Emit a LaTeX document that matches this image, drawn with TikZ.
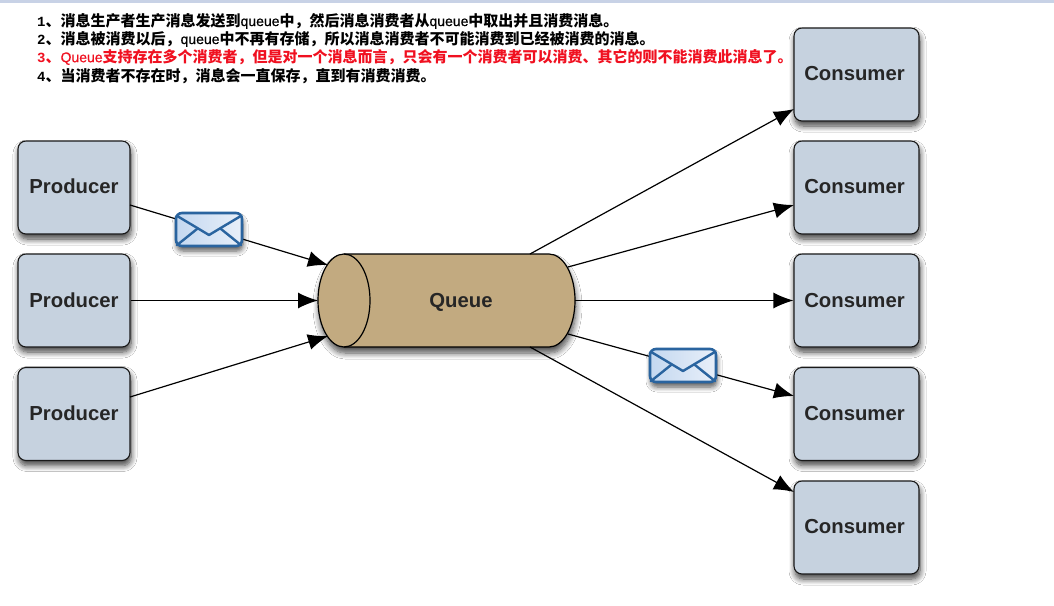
\documentclass[tikz,border=0pt]{standalone}
\usepackage{fontspec}
\setmainfont{Liberation Sans}
\newfontfamily\cjk{Noto Sans CJK SC}
\newfontfamily\monob{Liberation Mono}
\usetikzlibrary{arrows.meta,shadows.blur}
\definecolor{boxfill}{HTML}{C6D2DF}
\definecolor{qfill}{HTML}{C2AA80}
\definecolor{envline}{HTML}{2A649F}
\definecolor{envlight}{HTML}{E8EFF9}
\definecolor{envdark}{HTML}{C4D8F0}
\definecolor{barcol}{HTML}{C8D2E6}
\definecolor{redtxt}{HTML}{F01020}
\newcommand{\Dg}[1]{{\monob\bfseries\fontsize{14}{16}\selectfont #1}}
\newcommand{\Qu}[1]{{\normalfont\fontsize{14}{15}\selectfont\addfontfeatures{FakeBold=0.6}#1}}
\newcommand{\Lb}[1]{\raisebox{2pt}{#1}}
\tikzset{
  x=1pt,y=-1pt,
  boxbase/.style={draw=black!90,line width=1.1pt,rounded corners=8pt,fill=boxfill,
    text=black!85,font=\bfseries\fontsize{20.3}{24}\selectfont,
    blur shadow={shadow xshift=1pt,shadow yshift=-5pt,shadow blur steps=8,shadow opacity=75,shadow blur radius=6pt}},
  producer/.style={boxbase,minimum width=112pt,minimum height=93pt,inner sep=0pt},
  consumer/.style={boxbase,minimum width=125pt,minimum height=93pt,inner sep=0pt},
  flow/.style={draw=black,line width=1.2pt,-{Latex[length=20pt,width=16pt]}},
  envelope/.style={draw=envline,line width=2.6pt,rounded corners=6pt,left color=envdark,right color=envlight,
    minimum width=66pt,minimum height=33pt,inner sep=0pt,
    blur shadow={shadow xshift=1pt,shadow yshift=-5pt,shadow blur steps=6,shadow opacity=65,shadow blur radius=5pt}},
  envflap/.style={draw=envline,line width=2.4pt,line cap=round,line join=round},
  notes/.style={anchor=west,inner sep=0pt,font=\cjk\bfseries\fontsize{15}{17}\selectfont},
  qbody/.style={draw=black,line width=1.2pt,fill=qfill},
  qlabel/.style={text=black!85,font=\bfseries\fontsize{20.3}{24}\selectfont,inner sep=0pt},
}
\begin{document}
\begin{tikzpicture}
\useasboundingbox (0,0) rectangle (1054,605);
\fill[white] (0,0) rectangle (1054,605);
\fill[barcol] (0,0) rectangle (1054,3);

% notes
\node[notes] (n1) at (37,21) {\Dg{1}、消息生产者生产消息发送到\Qu{queue}中，然后消息消费者从\Qu{queue}中取出并且消费消息。};
\node[notes] (n2) at (37,39) {\Dg{2}、消息被消费以后，\Qu{queue}中不再有存储，所以消息消费者不可能消费到已经被消费的消息。};
\node[notes,text=redtxt] (n3) at (37,57) {\Dg{3}、\Qu{Queue}支持存在多个消费者，但是对一个消息而言，只会有一个消费者可以消费、其它的则不能消费此消息了。};
\node[notes] (n4) at (37,76) {\Dg{4}、当消费者不存在时，消息会一直保存，直到有消费消费。};

% producers and consumers
\node[producer] (p1) at (74,187.5) {\Lb{Producer}};
\node[producer] (p2) at (74,300.5) {Producer};
\node[producer] (p3) at (74,414) {\Lb{Producer}};
\node[consumer] (c1) at (856.5,74.5) {\Lb{Consumer\kern4pt}};
\node[consumer] (c2) at (856.5,187.5) {\Lb{Consumer\kern4pt}};
\node[consumer] (c3) at (856.5,300.5) {Consumer\kern4pt};
\node[consumer] (c4) at (856.5,414) {\Lb{Consumer\kern4pt}};
\node[consumer] (c5) at (856.5,527.5) {\Lb{Consumer\kern4pt}};

% connector ends
\coordinate (p1o) at (130,205);
\coordinate (p3o) at (130,397);
\coordinate (qi1) at (328,265);
\coordinate (qi2) at (318,300.5);
\coordinate (qi3) at (328,336);
\coordinate (qo1) at (530,254);
\coordinate (qo2) at (568,267);
\coordinate (qo3) at (575,300.5);
\coordinate (qo4) at (568,334);
\coordinate (qo5) at (530,347);
\coordinate (c1i) at (794,109);
\coordinate (c2i) at (794,205);
\coordinate (c4i) at (794,396);
\coordinate (c5i) at (794,492);

% queue
\path[qbody,blur shadow={shadow xshift=1pt,shadow yshift=-6pt,shadow blur steps=8,shadow opacity=70,shadow blur radius=6pt}]
  (344,254) -- (549,254) arc[start angle=90,end angle=-90,x radius=26pt,y radius=46.5pt]
  -- (344,347) arc[start angle=-90,end angle=-270,x radius=26pt,y radius=46.5pt] -- cycle;
\draw[black,line width=1.2pt] (344,254) arc[start angle=90,end angle=-90,x radius=26pt,y radius=46.5pt];
\node[qlabel] (queue) at (461,302) {Queue};

% connectors
\draw[flow] (p1o) -- (qi1);
\draw[flow] (p2.east) -- (qi2);
\draw[flow] (p3o) -- (qi3);
\draw[flow] (qo1) -- (c1i);
\draw[flow] (qo2) -- (c2i);
\draw[flow] (qo3) -- (c3.west);
\draw[flow] (qo4) -- (c4i);
\draw[flow] (qo5) -- (c5i);

% envelopes
\node[envelope] (e1) at (209,229.5) {};
\draw[envflap] ([shift={(2,4)}]e1.north west) -- (209,235) -- ([shift={(-2,4)}]e1.north east);
\draw[envflap] ([shift={(2,-2)}]e1.south west) -- (197,229);
\draw[envflap] ([shift={(-2,-2)}]e1.south east) -- (221,229);
\node[envelope] (e2) at (683,365.5) {};
\draw[envflap] ([shift={(2,4)}]e2.north west) -- (683,371) -- ([shift={(-2,4)}]e2.north east);
\draw[envflap] ([shift={(2,-2)}]e2.south west) -- (671,365);
\draw[envflap] ([shift={(-2,-2)}]e2.south east) -- (695,365);
\end{tikzpicture}
\end{document}
